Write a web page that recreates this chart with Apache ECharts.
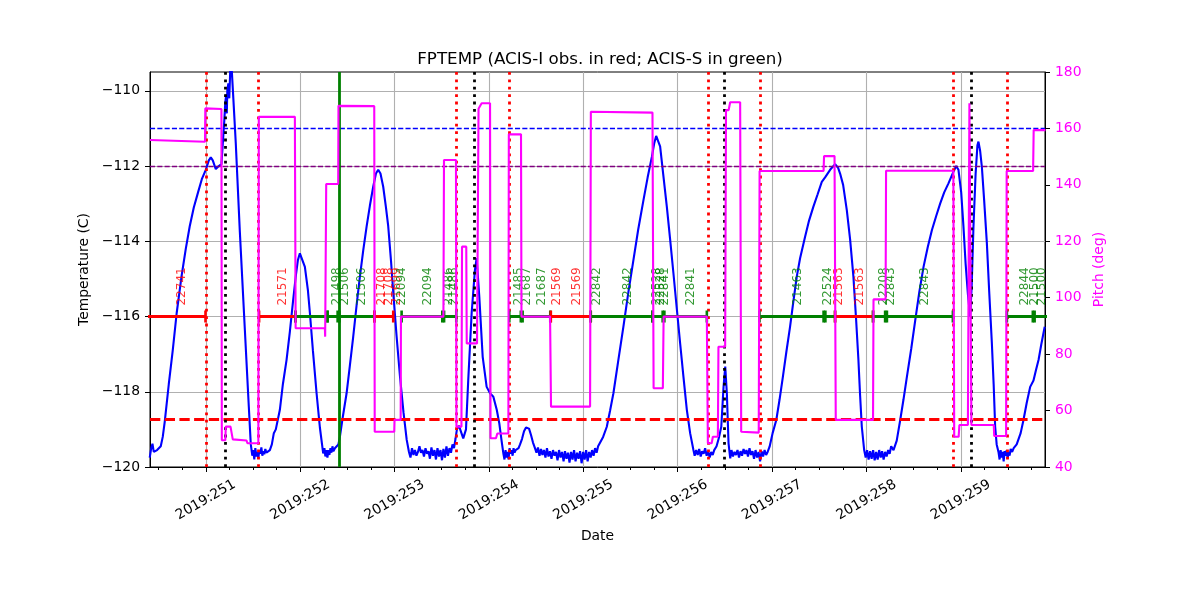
<!DOCTYPE html>
<html><head><meta charset="utf-8">
<script src="https://cdn.jsdelivr.net/npm/echarts@6/dist/echarts.min.js"></script>
<style>html,body{margin:0;padding:0;background:#fff}#c{width:1200px;height:600px}</style>
</head><body><div id="c"></div>
<script>
// ---- axis settings / ticks ----
const X_MIN = 250.409, X_MAX = 259.892;
const dayTicks = [251, 252, 253, 254, 255, 256, 257, 258, 259];
const quarterTicks = [250.5, 250.75, 251.25, 251.5, 251.75, 252.25, 252.5, 252.75, 253.25, 253.5, 253.75,
  254.25, 254.5, 254.75, 255.25, 255.5, 255.75, 256.25, 256.5, 256.75, 257.25, 257.5, 257.75,
  258.25, 258.5, 258.75, 259.25, 259.5, 259.75];
const tempTicks = [-120, -118, -116, -114, -112, -110];

// ---- FPTEMP (day of 2019, deg C) ----
const fptemp = [
[250.406,-119.75],[250.422,-119.50],[250.435,-119.38],[250.449,-119.60],[250.465,-119.62],[250.484,-119.55],[250.502,-119.60],[250.523,-119.45],[250.544,-119.20],[250.565,-118.80],[250.608,-117.80],[250.650,-116.90],[250.692,-115.90],[250.742,-114.95],[250.788,-114.20],[250.830,-113.60],[250.873,-113.10],[250.918,-112.70],[250.958,-112.35],[251.000,-112.10],[251.032,-111.85],[251.053,-111.77],[251.074,-111.85],[251.106,-112.08],[251.138,-112.00],[251.166,-111.95],[251.186,-111.90],[251.196,-110.80],[251.207,-110.30],[251.217,-110.10],[251.223,-110.60],[251.228,-110.00],[251.239,-109.80],[251.249,-110.20],[251.260,-109.40],[251.272,-109.30],[251.292,-110.20],[251.318,-111.40],[251.361,-113.75],[251.414,-116.35],[251.456,-118.40],[251.477,-119.40],[251.493,-119.70],
[251.504,-119.55],[251.514,-119.80],[251.525,-119.50],[251.536,-119.72],[251.546,-119.60],[251.557,-119.78],[251.567,-119.55],[251.578,-119.65],[251.589,-119.48],[251.599,-119.70],[251.610,-119.58],[251.620,-119.66],[251.631,-119.52],[251.642,-119.62],[251.658,-119.58],[251.679,-119.55],
[251.700,-119.40],[251.721,-119.10],[251.742,-119.00],[251.785,-118.48],[251.817,-117.80],[251.856,-117.15],[251.891,-116.40],[251.926,-115.56],[251.955,-114.90],[251.976,-114.50],[251.997,-114.32],[252.018,-114.35],[252.050,-114.68],[252.082,-115.30],[252.103,-115.90],[252.135,-116.90],[252.174,-118.04],[252.209,-118.95],[252.244,-119.64],
[252.257,-119.50],[252.267,-119.72],[252.278,-119.55],[252.289,-119.75],[252.299,-119.55],[252.310,-119.68],[252.321,-119.50],[252.331,-119.62],[252.342,-119.45],[252.352,-119.58],[252.368,-119.50],[252.386,-119.55],
[252.405,-119.40],[252.421,-119.20],[252.453,-118.65],[252.492,-118.04],[252.527,-117.30],[252.562,-116.54],[252.598,-115.70],[252.633,-114.94],[252.668,-114.25],[252.704,-113.61],[252.739,-113.05],[252.774,-112.55],[252.803,-112.20],[252.827,-112.10],[252.851,-112.20],[252.880,-112.55],[252.909,-113.10],[252.933,-113.60],[252.962,-114.50],[252.987,-115.38],[253.021,-116.50],[253.058,-117.60],[253.095,-118.55],[253.129,-119.28],[253.153,-119.60],
[253.169,-119.75],[253.185,-119.50],[253.201,-119.68],[253.216,-119.55],[253.232,-119.70],[253.248,-119.60],[253.264,-119.45],[253.280,-119.62],[253.296,-119.55],[253.312,-119.72],[253.328,-119.50],[253.344,-119.65],[253.360,-119.58],[253.375,-119.78],[253.391,-119.48],[253.407,-119.70],[253.423,-119.55],[253.439,-119.80],[253.455,-119.50],[253.471,-119.72],[253.487,-119.55],[253.503,-119.82],[253.518,-119.52],[253.534,-119.75],[253.550,-119.45],[253.566,-119.70],[253.582,-119.50],[253.598,-119.62],[253.614,-119.40],[253.630,-119.50],[253.646,-119.25],
[253.661,-119.00],[253.682,-118.90],[253.703,-118.85],[253.728,-119.24],[253.757,-119.00],[253.781,-117.69],[253.817,-115.91],[253.852,-114.76],[253.870,-114.45],[253.898,-115.47],[253.934,-117.07],[253.976,-117.87],[254.012,-118.04],[254.047,-118.13],[254.083,-118.48],[254.110,-118.84],[254.134,-119.30],[254.153,-119.64],
[254.165,-119.80],[254.176,-119.55],[254.187,-119.75],[254.198,-119.60],[254.208,-119.80],[254.219,-119.50],[254.229,-119.65],[254.240,-119.55],[254.251,-119.70],[254.261,-119.50],[254.272,-119.62],[254.283,-119.55],[254.299,-119.60],[254.314,-119.50],
[254.330,-119.40],[254.351,-119.25],[254.372,-119.05],[254.393,-118.95],[254.407,-118.92],[254.425,-118.98],[254.446,-119.15],[254.467,-119.35],[254.488,-119.50],
[254.504,-119.62],[254.520,-119.48],[254.536,-119.70],[254.552,-119.52],[254.567,-119.68],[254.583,-119.55],[254.599,-119.75],[254.615,-119.50],[254.631,-119.72],[254.647,-119.58],[254.663,-119.78],[254.679,-119.55],[254.695,-119.70],[254.711,-119.60],[254.727,-119.82],[254.743,-119.55],[254.759,-119.75],[254.775,-119.60],[254.791,-119.85],[254.806,-119.58],[254.822,-119.78],[254.838,-119.62],[254.854,-119.88],[254.870,-119.60],[254.886,-119.80],[254.902,-119.55],[254.918,-119.85],[254.934,-119.62],[254.950,-119.78],[254.966,-119.58],[254.982,-119.90],[254.998,-119.60],[255.014,-119.80],[255.030,-119.55],[255.046,-119.85],[255.062,-119.60],[255.078,-119.75],[255.093,-119.55],[255.109,-119.70],[255.125,-119.50],[255.141,-119.62],[255.157,-119.45],[255.178,-119.40],
[255.210,-119.20],[255.249,-118.93],[255.284,-118.50],[255.319,-118.04],[255.369,-117.20],[255.425,-116.27],[255.475,-115.40],[255.531,-114.50],[255.581,-113.70],[255.638,-112.90],[255.682,-112.30],[255.727,-111.75],[255.751,-111.40],[255.772,-111.20],[255.793,-111.25],[255.814,-111.48],[255.846,-112.20],[255.885,-113.08],[255.920,-113.95],[255.955,-114.85],[255.991,-115.80],[256.026,-116.71],[256.061,-117.60],[256.097,-118.48],[256.132,-119.10],[256.167,-119.55],
[256.180,-119.70],[256.196,-119.55],[256.212,-119.68],[256.228,-119.52],[256.244,-119.72],[256.259,-119.58],[256.275,-119.65],[256.291,-119.50],[256.307,-119.70],[256.323,-119.58],[256.339,-119.75],[256.355,-119.60],[256.371,-119.68],[256.387,-119.55],[256.403,-119.60],
[256.412,-119.45],[256.439,-119.20],[256.462,-118.93],[256.486,-117.87],[256.504,-117.33],[256.521,-118.04],[256.539,-119.37],[256.557,-119.77],
[256.570,-119.55],[256.586,-119.72],[256.602,-119.60],[256.618,-119.68],[256.634,-119.55],[256.650,-119.75],[256.666,-119.58],[256.682,-119.70],[256.698,-119.52],[256.714,-119.65],[256.729,-119.55],[256.745,-119.72],[256.761,-119.50],[256.777,-119.68],[256.793,-119.58],[256.809,-119.78],[256.825,-119.55],[256.841,-119.75],[256.857,-119.60],[256.873,-119.85],[256.889,-119.58],[256.905,-119.72],[256.921,-119.55],[256.937,-119.68],[256.953,-119.60],[256.974,-119.46],
[257.006,-119.10],[257.045,-118.75],[257.080,-118.20],[257.115,-117.60],[257.151,-116.95],[257.191,-116.27],[257.226,-115.60],[257.262,-114.94],[257.297,-114.45],[257.350,-113.88],[257.392,-113.45],[257.438,-113.08],[257.483,-112.75],[257.527,-112.42],[257.562,-112.30],[257.615,-112.10],[257.668,-111.95],[257.700,-112.05],[257.721,-112.20],[257.753,-112.50],[257.792,-113.17],[257.827,-113.95],[257.862,-114.94],[257.891,-116.10],[257.915,-117.15],[257.933,-118.10],[257.951,-118.93],[257.976,-119.55],
[257.992,-119.75],[258.007,-119.55],[258.023,-119.80],[258.039,-119.58],[258.055,-119.78],[258.071,-119.55],[258.087,-119.82],[258.103,-119.60],[258.119,-119.80],[258.135,-119.55],[258.151,-119.75],[258.166,-119.58],[258.182,-119.80],[258.198,-119.60],[258.214,-119.72],[258.230,-119.55],[258.246,-119.65],[258.262,-119.45],[258.287,-119.55],
[258.321,-119.30],[258.358,-118.75],[258.393,-118.20],[258.429,-117.60],[258.475,-116.85],[258.517,-116.10],[258.560,-115.35],[258.605,-114.68],[258.650,-114.15],[258.694,-113.70],[258.740,-113.32],[258.781,-113.00],[258.824,-112.70],[258.869,-112.46],[258.922,-112.15],[258.951,-112.00],[258.975,-112.10],[259.004,-112.70],[259.028,-113.61],[259.051,-114.60],[259.075,-115.40],[259.099,-116.00],[259.115,-115.20],[259.134,-113.61],[259.157,-112.20],[259.176,-111.45],[259.187,-111.35],[259.205,-111.60],[259.223,-112.02],[259.247,-112.90],[259.276,-114.05],[259.300,-115.30],[259.329,-116.71],[259.348,-117.80],[259.364,-118.93],[259.380,-119.40],[259.399,-119.60],
[259.411,-119.80],[259.422,-119.55],[259.433,-119.75],[259.443,-119.60],[259.454,-119.85],[259.464,-119.58],[259.475,-119.70],[259.486,-119.55],[259.496,-119.78],[259.507,-119.60],[259.517,-119.70],[259.528,-119.52],[259.544,-119.60],[259.560,-119.50],[259.576,-119.55],[259.592,-119.40],[259.611,-119.36],
[259.634,-119.10],[259.664,-118.75],[259.698,-118.30],[259.735,-117.87],[259.770,-117.70],[259.794,-117.45],[259.824,-117.15],[259.852,-116.75],[259.889,-116.27]
];

// ---- Pitch (deg) ----
const pitch = [
[250.409,155.9],[250.992,155.3],[250.995,167.1],[251.166,166.9],[251.170,49.5],[251.207,49.5],[251.212,54.3],[251.262,54.3],[251.286,49.8],[251.432,49.4],[251.441,48.4],[251.557,48.4],[251.562,164.1],[251.944,164.1],[251.952,89.2],[252.262,89.2],[252.265,86.2],[252.272,86.5],[252.276,140.3],[252.403,140.3],[252.406,168.0],[252.785,167.9],[252.790,52.5],[252.997,52.5],[253.000,56.7],[253.065,56.7],[253.068,93.3],[253.518,93.3],[253.524,148.8],[253.651,148.8],[253.656,54.3],[253.709,54.3],[253.715,118.1],[253.760,118.1],[253.765,83.8],[253.874,83.8],[253.890,167.0],[253.905,167.7],[253.923,168.9],[254.012,168.9],[254.017,50.2],[254.075,50.2],[254.089,51.9],[254.206,51.9],[254.211,157.9],[254.340,157.9],[254.345,93.3],[254.648,93.3],[254.658,61.4],[255.072,61.4],[255.080,165.9],[255.733,165.6],[255.745,67.9],[255.843,67.9],[255.851,93.3],[256.309,93.3],[256.320,48.4],[256.360,48.4],[256.373,50.7],[256.426,50.7],[256.432,82.6],[256.503,82.6],[256.512,166.5],[256.540,166.5],[256.556,169.3],[256.662,169.3],[256.673,52.5],[256.859,52.2],[256.868,144.9],[257.546,144.9],[257.551,150.2],[257.662,150.2],[257.675,56.7],[258.070,56.7],[258.075,99.4],[258.203,99.4],[258.208,145.0],[258.921,145.0],[258.930,50.7],[258.977,50.7],[258.985,54.9],[259.075,54.9],[259.091,168.9],[259.099,168.9],[259.112,54.9],[259.349,54.9],[259.354,51.0],[259.480,51.0],[259.486,144.9],[259.766,144.9],[259.772,159.4],[259.897,159.4]
];

// ---- observations (I = ACIS-I red, S = ACIS-S green) ----
const OBS_LEVEL = -116;
const obsStart = [250.30, 251.565, 251.950, 252.290, 252.416, 252.787, 253.075, 253.525, 254.216, 254.357, 254.656, 255.079, 255.733, 255.859, 256.867, 257.565, 257.668, 258.070, 258.217, 259.488, 259.782];
const obsStop  = [250.997, 251.950, 252.290, 252.397, 252.787, 252.986, 253.506, 253.654, 254.338, 254.650, 255.079, 255.733, 255.841, 256.309, 257.546, 257.667, 258.070, 258.198, 258.916, 259.763, 260.10];
const obsInstr = ['I','I','S','S','S','I','S','S','S','S','I','S','S','S','S','S','I','S','S','S','S'];

const labelDays = [250.742, 251.817, 252.389, 252.479, 252.654, 252.861, 252.941, 253.020, 253.078, 253.354, 253.577, 253.624,
  254.319, 254.399, 254.563, 254.717, 254.934, 255.146, 255.475, 255.782, 255.820, 255.862, 256.138,
  257.272, 257.590, 257.707, 257.930, 258.184, 258.258, 258.624, 259.674, 259.780, 259.860];
const labelText = ['22741','21571','21498','21506','21506','21708','21708','21699','22094','22094','21486','21486',
  '21485','21687','21687','21569','21569','22842','22842','22528','22528','22841','22841',
  '21463','22524','21563','21563','22208','22843','22843','22844','21500','21500'];
const labelInstr = ['I','I','S','S','S','I','I','I','S','S','S','S',
  'S','S','S','I','I','S','S','S','S','S','S',
  'S','S','I','I','S','S','S','S','S','S'];

// ---- reference lines ----
const radZoneDays = [250.997, 251.565, 253.654, 254.216, 256.316, 256.867, 258.924, 259.488];
const perigeeDays = [251.207, 253.845, 256.486, 259.112];
const markerDay = 252.406;
const planLimits = [-111, -112];
const redLimit = -118.73;

const RED = '#ff0000', GREEN = '#008000';
const FONT = 'DejaVu Sans';
const instrColor = s => s === 'I' ? RED : GREEN;
const minus = v => (v < 0 ? '\u2212' : '') + Math.abs(v);

const chart = echarts.init(document.getElementById('c'), null, {renderer: 'canvas', width: 1200, height: 600});

const series = [];
series.push({
  type: 'line', xAxisIndex: 0, yAxisIndex: 0, data: fptemp, symbol: 'none', showSymbol: false,
  lineStyle: {color: '#0000ff', width: 2.1}, z: 2, silent: true, emphasis: {disabled: true}, clip: true
});
const mlData = [];
planLimits.forEach((v, i) => mlData.push({yAxis: v, lineStyle: {color: i === 0 ? '#0000ff' : '#800080', type: [5.1, 2.2], width: 1.3}}));
mlData.push({yAxis: redLimit, lineStyle: {color: RED, type: [10.3, 4.4], width: 2.8}});
radZoneDays.forEach(d => mlData.push({xAxis: d, lineStyle: {color: RED, type: [2.8, 4.6], width: 2.8}}));
perigeeDays.forEach(d => mlData.push({xAxis: d, lineStyle: {color: '#000', type: [2.8, 4.6], width: 2.8}}));
mlData.push({xAxis: markerDay, lineStyle: {color: GREEN, type: 'solid', width: 2.8}});
series.push({
  type: 'line', xAxisIndex: 0, yAxisIndex: 0, data: [], z: 3, silent: true,
  markLine: {silent: true, symbol: ['none', 'none'], label: {show: false}, animation: false, z: 3,
    emphasis: {disabled: true}, data: mlData}
});
obsStart.forEach((s, i) => {
  const c = instrColor(obsInstr[i]);
  series.push({
    type: 'line', xAxisIndex: 0, yAxisIndex: 0, data: [[s, OBS_LEVEL], [obsStop[i], OBS_LEVEL]],
    symbol: 'rect', symbolSize: [2.6, 12], showSymbol: true, showAllSymbol: true,
    lineStyle: {color: c, width: 2.8}, itemStyle: {color: c}, z: 4, silent: true,
    emphasis: {disabled: true}, clip: true
  });
});
series.push({
  type: 'scatter', xAxisIndex: 0, yAxisIndex: 0, z: 4, silent: true, symbolSize: 1,
  itemStyle: {color: 'rgba(0,0,0,0)'}, emphasis: {disabled: true},
  data: labelDays.map((d, i) => ({value: [d, OBS_LEVEL], label: {color: instrColor(labelInstr[i])}})),
  label: {show: true, formatter: p => labelText[p.dataIndex], rotate: 90, position: [0.5, -10.5],
    align: 'left', verticalAlign: 'middle', fontSize: 12, fontFamily: FONT}
});
series.push({
  type: 'line', xAxisIndex: 0, yAxisIndex: 1, data: pitch, symbol: 'none', showSymbol: false,
  lineStyle: {color: '#ff00ff', width: 2.1}, z: 6, silent: true, emphasis: {disabled: true}, clip: true
});

const option = {
  animation: false,
  backgroundColor: '#fff',
  textStyle: {fontFamily: FONT},
  title: {text: 'FPTEMP (ACIS-I obs. in red; ACIS-S in green)', left: 'center', top: 46,
    textStyle: {fontSize: 16.7, fontWeight: 'normal', color: '#000', fontFamily: FONT}},
  grid: {left: 150, right: 155, top: 72, bottom: 133, show: true, borderColor: '#000', borderWidth: 1,
    backgroundColor: '#fff', outerBoundsMode: 'none'},
  xAxis: [
    {type: 'value', position: 'bottom', min: X_MIN, max: X_MAX,
     name: 'Date', nameLocation: 'middle', nameGap: 62,
     nameTextStyle: {fontSize: 13.9, color: '#000', fontFamily: FONT},
     axisLine: {show: true, onZero: false, lineStyle: {color: '#000', width: 1}},
     axisTick: {show: true, customValues: dayTicks, length: 5, lineStyle: {color: '#000', width: 1}},
     axisLabel: {customValues: dayTicks, formatter: v => '2019:' + Math.round(v), rotate: 30,
       align: 'center', verticalAlign: 'middle', margin: 33, fontSize: 13.9, color: '#000', fontFamily: FONT},
     splitLine: {show: true, lineStyle: {color: '#b0b0b0', width: 1.1}}},
    {type: 'value', position: 'bottom', min: X_MIN, max: X_MAX,
     axisLine: {show: false, onZero: false},
     axisTick: {show: true, customValues: quarterTicks, length: 3, lineStyle: {color: '#000', width: 1}},
     axisLabel: {show: false}, splitLine: {show: false}}
  ],
  yAxis: [
    {type: 'value', position: 'left', min: -120, max: -109.5,
     name: 'Temperature (C)', nameLocation: 'middle', nameGap: 52,
     nameTextStyle: {fontSize: 13.9, color: '#000', fontFamily: FONT},
     axisLine: {show: true, onZero: false, lineStyle: {color: '#000', width: 1}},
     axisTick: {show: true, customValues: tempTicks, length: 5, lineStyle: {color: '#000', width: 1}},
     axisLabel: {customValues: tempTicks, formatter: minus, margin: 10, fontSize: 13.9, color: '#000', fontFamily: FONT},
     splitLine: {show: true, lineStyle: {color: '#b0b0b0', width: 1.1}}},
    {type: 'value', position: 'right', min: 40, max: 180, interval: 20,
     name: 'Pitch (deg)', nameLocation: 'middle', nameGap: 34,
     nameTextStyle: {fontSize: 13.9, color: '#ff00ff', fontFamily: FONT},
     axisLine: {show: true, onZero: false, lineStyle: {color: '#000', width: 1}},
     axisTick: {show: true, length: 5, lineStyle: {color: '#000', width: 1}},
     axisLabel: {margin: 10, fontSize: 13.9, color: '#ff00ff', fontFamily: FONT},
     splitLine: {show: false}}
  ],
  series: series
};
chart.setOption(option);
</script>
</body></html>
